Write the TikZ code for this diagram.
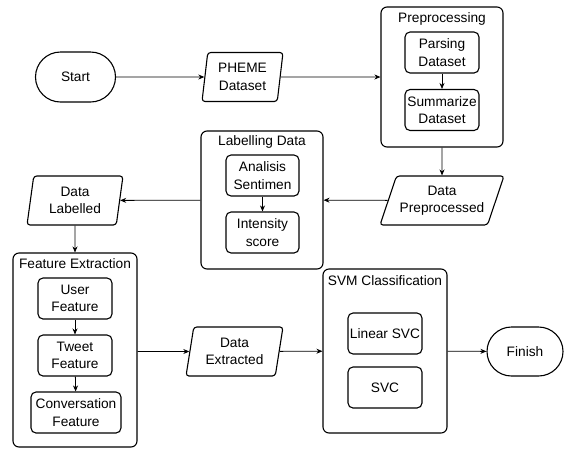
\documentclass[tikz,border=0pt]{standalone}
\usepackage{fontspec}
\setmainfont{Liberation Sans}
\usetikzlibrary{positioning,shapes.geometric,shapes.misc,arrows.meta}

\tikzset{
  box/.style={draw, rounded corners=5pt, line width=1.1pt, minimum width=74pt,
    minimum height=41pt, align=center, inner sep=0pt},
  group/.style={draw, rounded corners=6pt, line width=1.1pt, inner sep=0pt},
  term/.style={draw, rounded rectangle, line width=1.1pt, minimum width=80pt,
    minimum height=50pt, inner sep=0pt},
  io/.style={draw, trapezium, trapezium stretches body, line width=1.1pt,
    rounded corners=3pt, align=center, inner sep=0pt, minimum height=49pt},
  title/.style={inner sep=0pt},
  flow/.style={->, line width=0.8pt},
}

\begin{document}
\begin{tikzpicture}[x=1pt, y=-1pt, >={Stealth[length=6pt,width=5pt]},
  every node/.style={font=\fontsize{13.7pt}{17.5pt}\selectfont}]

\useasboundingbox (0,0) rectangle (564,448);

% top row
\node [term] (start) at (75.5,77) {Start};
\node [io, trapezium left angle=78, trapezium right angle=102, minimum width=81pt]
  (pheme) at (242.5,77) {PHEME\\Dataset};

\node [group, minimum width=122pt, minimum height=140pt] (prep) at (442,77) {};
\node [title, below=6pt of prep.north] (preptitle) {Preprocessing};
\node [box] (parse) at (442,52.5) {Parsing\\Dataset};
\node [box] (summ) at (442,110) {Summarize\\Dataset};

% middle row
\node [io, trapezium left angle=61, trapezium right angle=119, minimum width=124pt]
  (dprep) at (442,200.5) {Data\\Preprocessed};

\node [group, minimum width=122pt, minimum height=138pt] (label) at (262,200) {};
\node [title, below=5pt of label.north] (labeltitle) {Labelling Data};
\node [box, minimum width=73pt] (anal) at (262.5,175.5) {Analisis\\Sentimen};
\node [box, minimum width=73pt] (inten) at (262.5,232.5) {Intensity\\score};

\node [io, trapezium left angle=76, trapezium right angle=104, minimum width=96pt]
  (dlab) at (75,200.5) {Data\\Labelled};

% bottom row
\node [group, minimum width=124pt, minimum height=194pt] (feat) at (75,350) {};
\node [title, below=6pt of feat.north] (feattitle) {Feature Extraction};
\node [box] (user) at (75,298.5) {User\\Feature};
\node [box] (tweet) at (75,355.5) {Tweet\\Feature};
\node [box, minimum width=90pt] (conv) at (76,412.5) {Conversation\\Feature};

\node [io, trapezium left angle=74, trapezium right angle=106, minimum width=97pt]
  (dext) at (234.5,351.5) {Data\\Extracted};

\node [group, minimum width=124pt, minimum height=164pt] (svm) at (385,351) {};
\node [title, below=7pt of svm.north] (svmtitle) {SVM Classification};
\node [box] (lin) at (385,333.5) {Linear SVC};
\node [box] (svc) at (385,387.5) {SVC};

\node [term, minimum width=76pt, minimum height=49pt] (fin) at (525,351.5) {Finish};

% connectors
\draw [flow] (start) -- (pheme);
\draw [flow] (pheme) -- (prep);
\draw [flow] (parse) -- (summ);
\draw [flow] (prep) -- (dprep);
\draw [flow] (dprep) -- (label);
\draw [flow] (anal) -- (inten);
\draw [flow] (label) -- (dlab);
\draw [flow] (dlab) -- (feat);
\draw [flow] (user) -- (tweet);
\draw [flow] (tweet) -- (conv);
\draw [flow] (feat.east |- dext.west) -- (dext);
\draw [flow] (dext) -- (svm);
\draw [flow] (svm) -- (fin);

\end{tikzpicture}
\end{document}
